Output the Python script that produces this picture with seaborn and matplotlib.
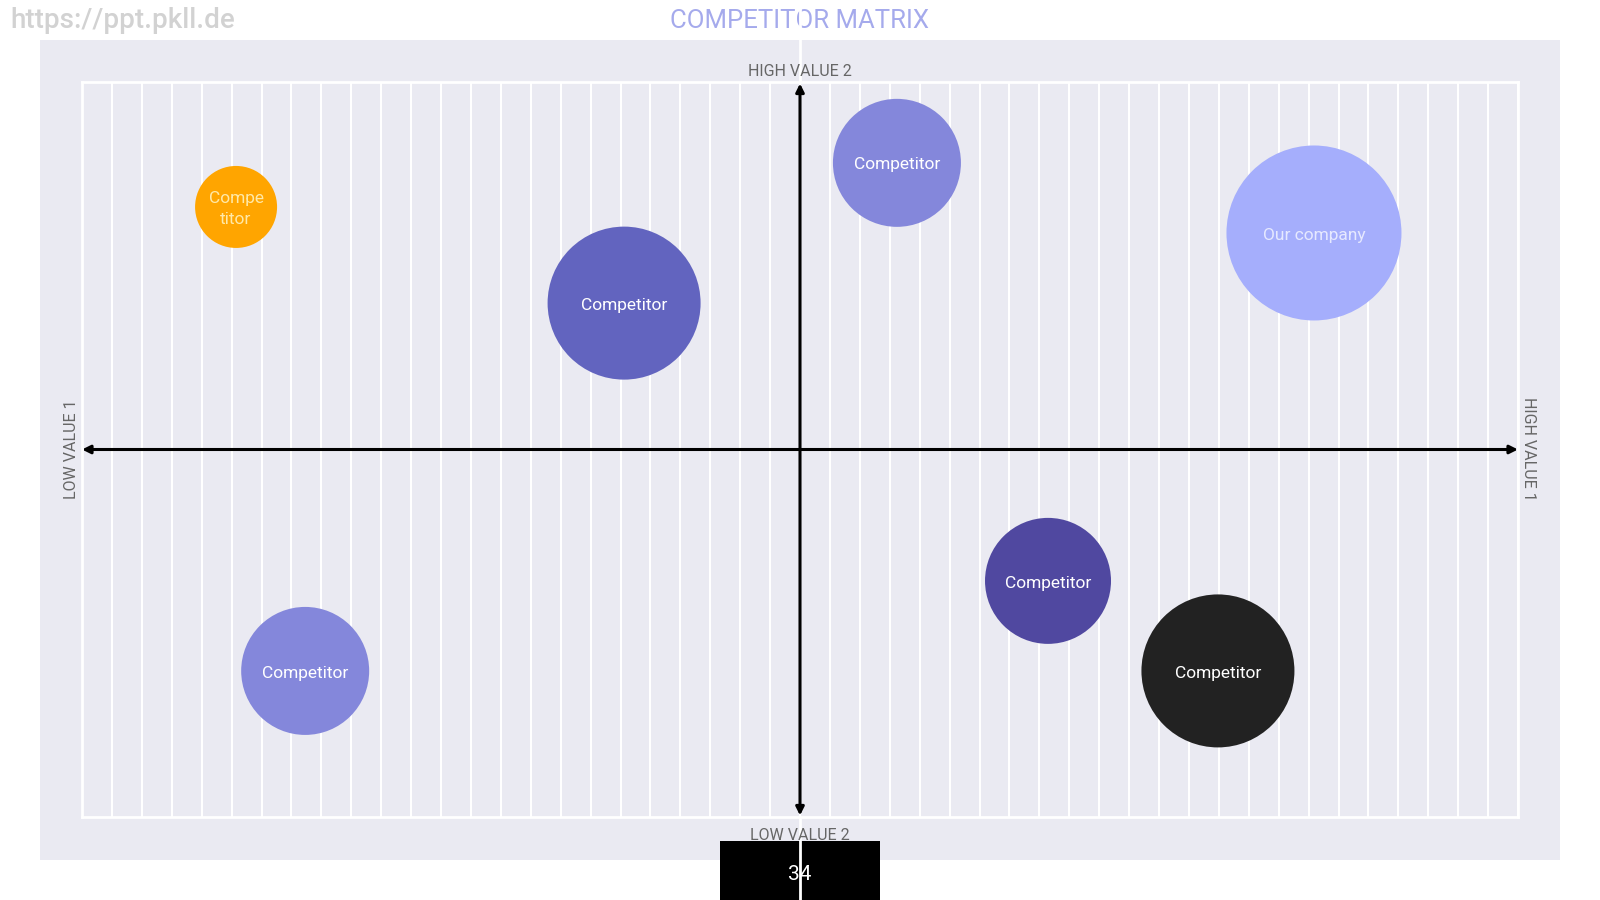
import matplotlib
matplotlib.use("Agg")
import matplotlib.pyplot as plt
from matplotlib.patches import Rectangle
from matplotlib.lines import Line2D
import pandas as pd
import seaborn as sns

# bubble data (x = value 1, y = value 2, radius in px)
names = ["Compe\ntitor", "Competitor", "Competitor", "Our company", "Competitor", "Competitor", "Competitor"]
x_vals = [-18.85, -5.88, 3.24, 17.18, 8.29, 13.97, -16.54]
y_vals = [7.92, 4.78, 9.36, 7.07, -4.29, -7.23, -7.23]
radius = [41, 76.5, 64, 87.5, 63, 76.5, 64]
colors = ["#FFA500", "#6264BF", "#8487DB", "#A5AEFC", "#5048A0", "#222222", "#8487DB"]
text_colors = ["#FFE9A8", "white", "white", "#E6E9FF", "white", "white", "white"]

sns.set_theme(style="darkgrid")
plt.rcParams["font.family"] = ["Roboto", "DejaVu Sans"]

df = pd.DataFrame({"name": names, "x": x_vals, "y": y_vals, "r": radius})
df["id"] = range(len(df))
df["area"] = (2 * df["r"] * 0.72) ** 2

fig = plt.figure(figsize=(16, 9), dpi=100, facecolor="white")

# light panel behind the chart
fig.patches.append(Rectangle((40 / 1600, 40 / 900), 1520 / 1600, 820 / 900,
                             transform=fig.transFigure, facecolor="#EAEAF2",
                             edgecolor="none", zorder=0.1))
# black page number box
fig.patches.append(Rectangle((720 / 1600, 0), 160 / 1600, 59 / 900,
                             transform=fig.transFigure, facecolor="black",
                             edgecolor="none", zorder=0.3))
fig.text(0.5, 26 / 900, "34", color="white", fontsize=15, ha="center", va="center", zorder=0.4)
# center white line
fig.lines.append(Line2D([0.5, 0.5], [0, 1], transform=fig.transFigure,
                        color="white", lw=2, zorder=0.6))

fig.text(0.5, 1 - 21 / 900, "COMPETITOR MATRIX", color="#A5AAEC", fontsize=18.5,
         ha="center", va="center", zorder=0.5)
fig.text(10 / 1600, 1 - 21 / 900, "https://ppt.pkll.de", color="#D2D2D2", fontsize=20,
         fontweight="medium", ha="left", va="center", zorder=0.5)

ax = fig.add_axes([82 / 1600, 83 / 900, 1436 / 1600, 735 / 900], zorder=1)
ax.set_facecolor("#EAEAF2")

sns.scatterplot(data=df, x="x", y="y", hue="id", palette=colors,
                size="area", sizes=(df["area"].min(), df["area"].max()),
                size_norm=(df["area"].min(), df["area"].max()),
                linewidth=0, alpha=1, legend=False, ax=ax, zorder=3)

for _, row in df.iterrows():
    ax.text(row["x"], row["y"] - 0.07, row["name"], color=text_colors[row["id"]],
            fontsize=12.5, ha="center", va="center", zorder=4, linespacing=1.45)

ax.set_xlim(-24, 24)
ax.set_ylim(-12, 12)
ax.set_xticks(range(-24, 25))
ax.set_yticks([])
ax.tick_params(length=0, labelbottom=False, labelleft=False)
ax.grid(axis="x", color="white", lw=1.5)
ax.grid(axis="y", visible=False)
ax.set_xlabel("")
ax.set_ylabel("")
for s in ax.spines.values():
    s.set_color("white")
    s.set_linewidth(2)

arrow = dict(arrowstyle="<|-|>", color="black", lw=2.2, mutation_scale=12,
             shrinkA=0, shrinkB=0)
ax.annotate("", xy=(24, 0), xytext=(-24, 0), arrowprops=arrow, zorder=2)
ax.annotate("", xy=(0, 11.95), xytext=(0, -11.95), arrowprops=arrow, zorder=2)

lab = dict(color="#666666", fontsize=11.5, ha="center", va="center")
fig.text(0.5, 1 - 71 / 900, "HIGH VALUE 2", **lab)
fig.text(0.5, 1 - 836 / 900, "LOW VALUE 2", **lab)
fig.text(71 / 1600, 1 - 449 / 900, "LOW VALUE 1", rotation=90, **lab)
fig.text(1529 / 1600, 1 - 449 / 900, "HIGH VALUE 1", rotation=270, **lab)

fig.savefig("out.png", dpi=100, facecolor="white")
